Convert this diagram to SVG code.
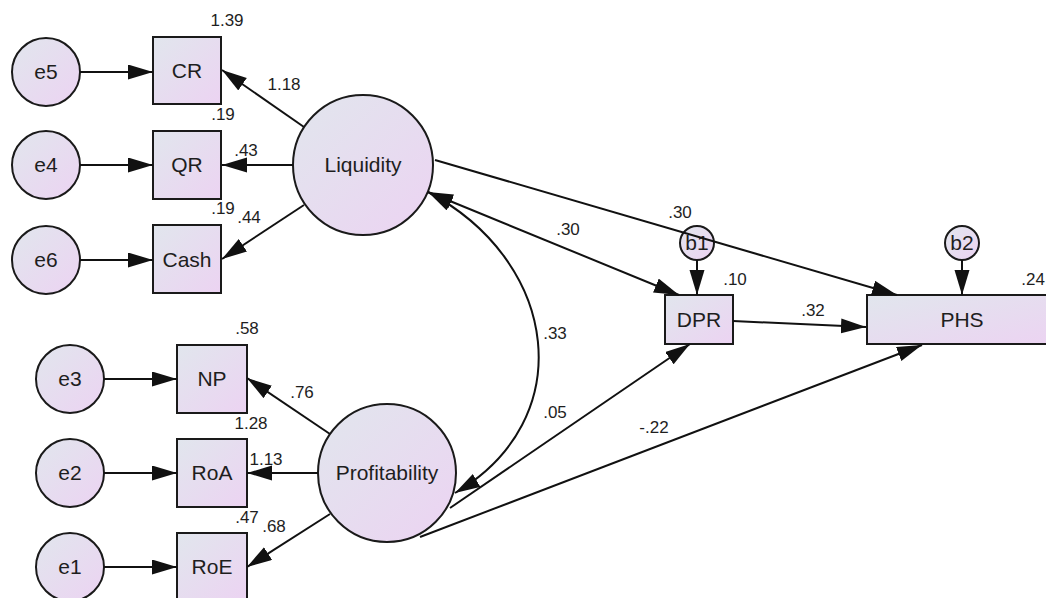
<svg xmlns="http://www.w3.org/2000/svg" width="1046" height="598" viewBox="0 0 1046 598">
<style>
.n{stroke:#1a1a1a;stroke-width:2;fill:url(#g)}
.t{font-family:"Liberation Sans",Arial,sans-serif;font-size:21px;fill:#1e1e1e;text-anchor:middle}
.l{font-family:"Liberation Sans",Arial,sans-serif;font-size:17px;fill:#1e1e1e;text-anchor:middle}
.c{stroke:#111;stroke-width:2;fill:none;marker-end:url(#a)}
.d{marker-start:url(#a)}
</style>
<defs>
<linearGradient id="g" x1="0" y1="0" x2="1" y2="1">
<stop offset="0" stop-color="#e1e6ed"/>
<stop offset="1" stop-color="#ecd3f2"/>
</linearGradient>
<marker id="a" markerUnits="userSpaceOnUse" markerWidth="28" markerHeight="18" refX="25" refY="7.5" orient="auto-start-reverse">
<path d="M0,0 L25,7.5 L0,15 z" fill="#111"/>
</marker>
</defs>
<rect width="1046" height="598" fill="#fff"/>
<g id="e5"><circle class="n" cx="46" cy="72" r="34"/><text class="t" x="46" y="79">e5</text></g>
<g id="e4"><circle class="n" cx="46" cy="165" r="34"/><text class="t" x="46" y="172">e4</text></g>
<g id="e6"><circle class="n" cx="46" cy="260" r="34"/><text class="t" x="46" y="267">e6</text></g>
<g id="CR"><rect class="n" x="153" y="37" width="68" height="67"/><text class="t" x="187" y="78">CR</text></g>
<g id="QR"><rect class="n" x="153" y="131" width="68" height="68"/><text class="t" x="187" y="172">QR</text></g>
<g id="Cash"><rect class="n" x="153" y="225" width="68" height="68"/><text class="t" x="187" y="267">Cash</text></g>
<g id="Liquidity"><circle class="n" cx="363" cy="165" r="70"/><text class="t" x="363" y="172">Liquidity</text></g>
<g id="e3"><circle class="n" cx="70" cy="379" r="34"/><text class="t" x="70" y="386">e3</text></g>
<g id="e2"><circle class="n" cx="70" cy="473" r="34"/><text class="t" x="70" y="480">e2</text></g>
<g id="e1"><circle class="n" cx="70" cy="567" r="34"/><text class="t" x="70" y="574">e1</text></g>
<g id="NP"><rect class="n" x="177" y="345" width="70" height="68"/><text class="t" x="212" y="386">NP</text></g>
<g id="RoA"><rect class="n" x="177" y="439" width="70" height="68"/><text class="t" x="212" y="480">RoA</text></g>
<g id="RoE"><rect class="n" x="177" y="533" width="70" height="68"/><text class="t" x="212" y="574">RoE</text></g>
<g id="Profitability"><circle class="n" cx="387" cy="473" r="69"/><text class="t" x="387" y="480">Profitability</text></g>
<g id="DPR"><rect class="n" x="665" y="295" width="68" height="49"/><text class="t" x="699" y="327">DPR</text></g>
<g id="PHS"><rect class="n" x="867" y="295" width="190" height="49"/><text class="t" x="962" y="327">PHS</text></g>
<g id="b1"><circle class="n" cx="697" cy="243" r="17"/><text class="t" x="697" y="250">b1</text></g>
<g id="b2"><circle class="n" cx="962" cy="243" r="17"/><text class="t" x="962" y="250">b2</text></g>
<g id="connectors">
<line class="c" x1="80" y1="72" x2="153" y2="72"/>
<line class="c" x1="80" y1="165" x2="153" y2="165"/>
<line class="c" x1="80" y1="260" x2="153" y2="260"/>
<line class="c" x1="304" y1="127" x2="222" y2="70"/>
<line class="c" x1="293" y1="165" x2="222" y2="165"/>
<line class="c" x1="304" y1="205" x2="222" y2="259"/>
<line class="c" x1="104" y1="379" x2="177" y2="379"/>
<line class="c" x1="104" y1="473" x2="177" y2="473"/>
<line class="c" x1="104" y1="567" x2="177" y2="567"/>
<line class="c" x1="330" y1="434" x2="247" y2="378"/>
<line class="c" x1="318" y1="473" x2="247" y2="473"/>
<line class="c" x1="330" y1="514" x2="247" y2="567"/>
<line class="c" x1="435" y1="160" x2="897" y2="295"/>
<line class="c d" x1="428" y1="192" x2="679" y2="295"/>
<path class="c d" d="M428,192 C560,262 580,420 455,493"/>
<line class="c" x1="450" y1="508" x2="690" y2="344"/>
<line class="c" x1="420" y1="537" x2="922" y2="345"/>
<line class="c" x1="733" y1="321" x2="866" y2="327"/>
<line class="c" x1="697" y1="260" x2="697" y2="295"/>
<line class="c" x1="962" y1="260" x2="962" y2="295"/>
</g>
<g id="labels">
<text class="l" x="227" y="26">1.39</text>
<text class="l" x="284" y="90">1.18</text>
<text class="l" x="223" y="120">.19</text>
<text class="l" x="246" y="156">.43</text>
<text class="l" x="223" y="214">.19</text>
<text class="l" x="249" y="223">.44</text>
<text class="l" x="247" y="334">.58</text>
<text class="l" x="302" y="398">.76</text>
<text class="l" x="251" y="429">1.28</text>
<text class="l" x="266" y="465">1.13</text>
<text class="l" x="247" y="523">.47</text>
<text class="l" x="274" y="532">.68</text>
<text class="l" x="680" y="218">.30</text>
<text class="l" x="568" y="235">.30</text>
<text class="l" x="735" y="285">.10</text>
<text class="l" x="813" y="316">.32</text>
<text class="l" x="1045" y="285" style="text-anchor:end">.24</text>
<text class="l" x="555" y="339">.33</text>
<text class="l" x="555" y="418">.05</text>
<text class="l" x="654" y="433">-.22</text>
</g>
</svg>
